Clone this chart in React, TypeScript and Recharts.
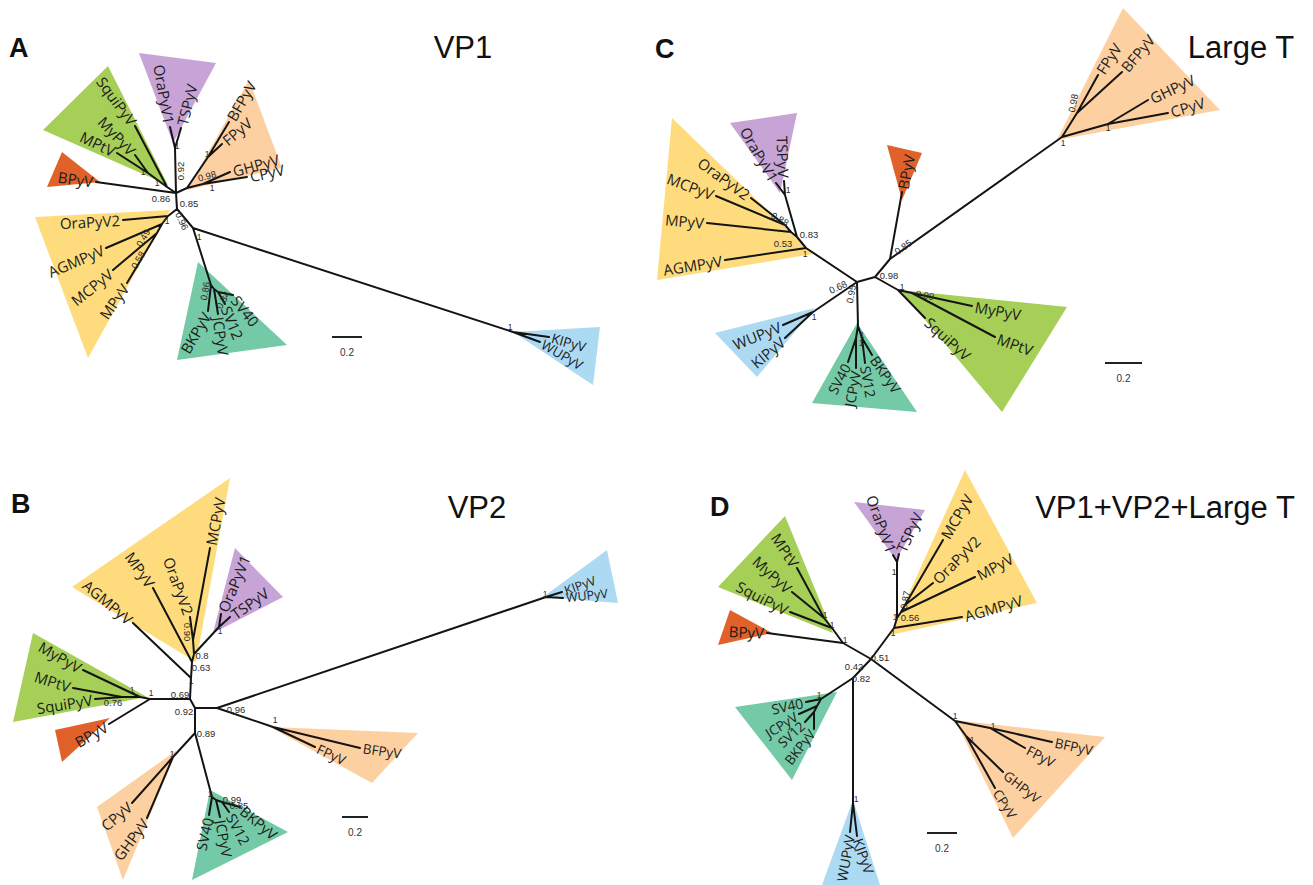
import React from 'react';
import { ScatterChart, Scatter, XAxis, YAxis } from 'recharts';

type Leaf = { name: string; x: number; y: number; dir: number };
type Node = { id: string; x: number; y: number };
type Edge = [string, string];
type Clade = { group: string; pts: [number, number][] };
type Support = { t: string; x: number; y: number; r?: number };

// ---------------- Panel A : VP1 ----------------
const leavesA: Leaf[] = [
  { name: 'SquiPyV', x: 135, y: 126, dir: -126 },
  { name: 'MyPyV', x: 135, y: 155, dir: -133 },
  { name: 'MPtV', x: 117, y: 153, dir: -154 },
  { name: 'BPyV', x: 96, y: 182, dir: -172 },
  { name: 'OraPyV1', x: 170, y: 127, dir: -100 },
  { name: 'TSPyV', x: 181, y: 128, dir: -76 },
  { name: 'BFPyV', x: 229, y: 122, dir: -60 },
  { name: 'FPyV', x: 222, y: 144, dir: -40 },
  { name: 'GHPyV', x: 230, y: 172, dir: -15 },
  { name: 'CPyV', x: 247, y: 177, dir: -12 },
  { name: 'OraPyV2', x: 123, y: 220, dir: 177 },
  { name: 'AGMPyV', x: 106, y: 248, dir: 157 },
  { name: 'MCPyV', x: 113, y: 270, dir: 141 },
  { name: 'MPyV', x: 127, y: 283, dir: 125 },
  { name: 'BKPyV', x: 208, y: 311, dir: 120 },
  { name: 'JCPyV', x: 218, y: 314, dir: 82 },
  { name: 'SV12', x: 225, y: 304, dir: 68 },
  { name: 'SV40', x: 233, y: 295, dir: 52 },
  { name: 'KIPyV', x: 549, y: 337, dir: 16 },
  { name: 'WUPyV', x: 540, y: 342, dir: 30 },
];
const nodesA: Node[] = [
  { id: 'r', x: 176, y: 193 }, { id: 'g', x: 167, y: 187 }, { id: 'g2', x: 148, y: 173 },
  { id: 'p', x: 175, y: 148 }, { id: 'o', x: 187, y: 188 }, { id: 'o2', x: 208, y: 157 },
  { id: 'o3', x: 203, y: 184 }, { id: 'r2', x: 177, y: 209 }, { id: 'y', x: 168, y: 216 },
  { id: 'y2', x: 162, y: 224 }, { id: 'y3', x: 157, y: 233 }, { id: 'r3', x: 193, y: 228 },
  { id: 'kw', x: 513, y: 332 }, { id: 't', x: 211, y: 285 }, { id: 't2', x: 214, y: 289 },
  { id: 't3', x: 218, y: 292 },
];
const edgesA: Edge[] = [
  ['r', 'g'], ['g', 'SquiPyV'], ['g', 'g2'], ['g2', 'MyPyV'], ['g2', 'MPtV'], ['r', 'BPyV'],
  ['r', 'p'], ['p', 'OraPyV1'], ['p', 'TSPyV'], ['r', 'o'], ['o', 'o2'], ['o2', 'BFPyV'],
  ['o2', 'FPyV'], ['o', 'o3'], ['o3', 'GHPyV'], ['o3', 'CPyV'], ['r', 'r2'], ['r2', 'y'],
  ['y', 'OraPyV2'], ['y', 'y2'], ['y2', 'AGMPyV'], ['y2', 'y3'], ['y3', 'MCPyV'], ['y3', 'MPyV'],
  ['r2', 'r3'], ['r3', 'kw'], ['kw', 'KIPyV'], ['kw', 'WUPyV'], ['r3', 't'], ['t', 'BKPyV'],
  ['t', 't2'], ['t2', 'JCPyV'], ['t2', 't3'], ['t3', 'SV12'], ['t3', 'SV40'],
];
const cladesA: Clade[] = [
  { group: 'purple', pts: [[139, 53], [216, 63], [173, 143]] },
  { group: 'green', pts: [[43, 130], [108, 66], [168, 185]] },
  { group: 'red', pts: [[47, 187], [62, 152], [100, 182]] },
  { group: 'orange', pts: [[187, 190], [249, 80], [282, 168]] },
  { group: 'yellow', pts: [[35, 217], [170, 210], [88, 358]] },
  { group: 'teal', pts: [[198, 262], [287, 345], [177, 360]] },
  { group: 'blue', pts: [[513, 332], [600, 327], [593, 385]] },
];
const supportA: Support[] = [
  { t: '0.92', x: 180, y: 171, r: -90 }, { t: '1', x: 177, y: 146 }, { t: '0.86', x: 161, y: 198 },
  { t: '0.85', x: 189, y: 203 }, { t: '1', x: 157, y: 183 }, { t: '1', x: 143, y: 172 },
  { t: '0.98', x: 207, y: 176, r: -15 }, { t: '1', x: 212, y: 188 }, { t: '1', x: 207, y: 154 },
  { t: '0.96', x: 182, y: 221, r: 65 }, { t: '1', x: 167, y: 221 }, { t: '0.49', x: 143, y: 238, r: -60 },
  { t: '0.58', x: 138, y: 260, r: -60 }, { t: '1', x: 199, y: 237 }, { t: '1', x: 510, y: 327 },
  { t: '0.86', x: 205, y: 291, r: -80 }, { t: '0.84', x: 223, y: 300, r: -60 },
];

// ---------------- Panel B : VP2 ----------------
const leavesB: Leaf[] = [
  { name: 'AGMPyV', x: 133, y: 623, dir: -140 },
  { name: 'MPyV', x: 153, y: 588, dir: -125 },
  { name: 'OraPyV2', x: 190, y: 617, dir: -110 },
  { name: 'MCPyV', x: 210, y: 548, dir: -79 },
  { name: 'OraPyV1', x: 221, y: 614, dir: -67 },
  { name: 'TSPyV', x: 230, y: 617, dir: -35 },
  { name: 'MyPyV', x: 83, y: 670, dir: -150 },
  { name: 'MPtV', x: 73, y: 688, dir: -162 },
  { name: 'SquiPyV', x: 95, y: 699, dir: 171 },
  { name: 'BPyV', x: 109, y: 724, dir: 150 },
  { name: 'CPyV', x: 132, y: 803, dir: 140 },
  { name: 'GHPyV', x: 147, y: 818, dir: 127 },
  { name: 'SV40', x: 209, y: 815, dir: 103 },
  { name: 'JCPyV', x: 220, y: 817, dir: 80 },
  { name: 'SV12', x: 229, y: 812, dir: 62 },
  { name: 'BKPyV', x: 240, y: 807, dir: 40 },
  { name: 'FPyV', x: 315, y: 747, dir: 25 },
  { name: 'BFPyV', x: 360, y: 748, dir: 8 },
  { name: 'KIPyV', x: 562, y: 592, dir: -20 },
  { name: 'WUPyV', x: 563, y: 598, dir: -6 },
];
const nodesB: Node[] = [
  { id: 'n1', x: 190, y: 699 }, { id: 'n2', x: 195, y: 708 }, { id: 'rr', x: 217, y: 708 },
  { id: 'kw', x: 546, y: 597 }, { id: 'or', x: 273, y: 727 }, { id: 'n3', x: 195, y: 733 },
  { id: 'ol', x: 173, y: 757 }, { id: 't', x: 212, y: 797 }, { id: 't2', x: 216, y: 800 },
  { id: 't3', x: 222, y: 802 }, { id: 'g0', x: 150, y: 699 }, { id: 'g', x: 140, y: 697 },
  { id: 'g2', x: 122, y: 697 }, { id: 'y1', x: 191, y: 678 }, { id: 'y2', x: 192, y: 662 },
  { id: 'y3', x: 194, y: 654 }, { id: 'y4', x: 193, y: 640 }, { id: 'p', x: 219, y: 627 },
];
const edgesB: Edge[] = [
  ['n1', 'g0'], ['g0', 'BPyV'], ['g0', 'g'], ['g', 'MyPyV'], ['g', 'g2'], ['g2', 'MPtV'],
  ['g2', 'SquiPyV'], ['n1', 'y1'], ['y1', 'AGMPyV'], ['y1', 'y2'], ['y2', 'MPyV'], ['y2', 'y3'],
  ['y3', 'p'], ['p', 'OraPyV1'], ['p', 'TSPyV'], ['y3', 'y4'], ['y4', 'OraPyV2'], ['y4', 'MCPyV'],
  ['n1', 'n2'], ['n2', 'rr'], ['rr', 'kw'], ['kw', 'KIPyV'], ['kw', 'WUPyV'], ['rr', 'or'],
  ['or', 'BFPyV'], ['or', 'FPyV'], ['n2', 'n3'], ['n3', 'ol'], ['ol', 'CPyV'], ['ol', 'GHPyV'],
  ['n3', 't'], ['t', 'SV40'], ['t', 't2'], ['t2', 'JCPyV'], ['t2', 't3'], ['t3', 'SV12'], ['t3', 'BKPyV'],
];
const cladesB: Clade[] = [
  { group: 'yellow', pts: [[72, 587], [230, 478], [196, 662]] },
  { group: 'purple', pts: [[235, 548], [283, 597], [213, 633]] },
  { group: 'green', pts: [[33, 633], [13, 722], [147, 697]] },
  { group: 'red', pts: [[55, 730], [62, 762], [110, 718]] },
  { group: 'orange', pts: [[97, 807], [177, 750], [123, 880]] },
  { group: 'teal', pts: [[210, 790], [288, 832], [192, 880]] },
  { group: 'orange', pts: [[270, 727], [418, 733], [372, 783]] },
  { group: 'blue', pts: [[543, 597], [607, 550], [618, 603]] },
];
const supportB: Support[] = [
  { t: '0.69', x: 180, y: 694 }, { t: '0.92', x: 184, y: 711 }, { t: '0.96', x: 236, y: 709 },
  { t: '0.89', x: 206, y: 733 }, { t: '1', x: 151, y: 693 }, { t: '1', x: 132, y: 690 },
  { t: '0.76', x: 113, y: 702 }, { t: '1', x: 191, y: 681 }, { t: '0.63', x: 201, y: 667 },
  { t: '0.8', x: 202, y: 655 }, { t: '0.90', x: 187, y: 632, r: 90 }, { t: '1', x: 220, y: 631 },
  { t: '1', x: 172, y: 754 }, { t: '1', x: 275, y: 720 }, { t: '1', x: 210, y: 794 },
  { t: '0.99', x: 232, y: 799 }, { t: '0.85', x: 239, y: 805 }, { t: '1', x: 545, y: 594 },
];

// ---------------- Panel C : Large T ----------------
const leavesC: Leaf[] = [
  { name: 'TSPyV', x: 784, y: 181, dir: -92 },
  { name: 'OraPyV1', x: 776, y: 183, dir: -120 },
  { name: 'OraPyV2', x: 751, y: 198, dir: -144 },
  { name: 'MCPyV', x: 716, y: 196, dir: -159 },
  { name: 'MPyV', x: 707, y: 223, dir: -175 },
  { name: 'AGMPyV', x: 725, y: 260, dir: 171 },
  { name: 'WUPyV', x: 783, y: 325, dir: 158 },
  { name: 'KIPyV', x: 785, y: 338, dir: 140 },
  { name: 'SV40', x: 848, y: 362, dir: 118 },
  { name: 'JCPyV', x: 856, y: 368, dir: 100 },
  { name: 'SV12', x: 865, y: 363, dir: 80 },
  { name: 'BKPyV', x: 872, y: 355, dir: 55 },
  { name: 'BPyV', x: 902, y: 192, dir: -79 },
  { name: 'MyPyV', x: 972, y: 306, dir: 10 },
  { name: 'MPtV', x: 995, y: 337, dir: 20 },
  { name: 'SquiPyV', x: 925, y: 318, dir: 42 },
  { name: 'FPyV', x: 1098, y: 75, dir: -57 },
  { name: 'BFPyV', x: 1122, y: 72, dir: -50 },
  { name: 'GHPyV', x: 1148, y: 100, dir: -25 },
  { name: 'CPyV', x: 1168, y: 113, dir: -17 },
];
const nodesC: Node[] = [
  { id: 'l', x: 857, y: 282 }, { id: 'r', x: 875, y: 277 }, { id: 'bl', x: 890, y: 259 },
  { id: 'y1', x: 806, y: 248 }, { id: 'y2', x: 797, y: 237 }, { id: 'y3', x: 791, y: 232 },
  { id: 'y4', x: 785, y: 225 }, { id: 'p', x: 785, y: 195 }, { id: 'b', x: 813, y: 312 },
  { id: 't', x: 858, y: 326 }, { id: 't2', x: 856, y: 338 }, { id: 't3', x: 862, y: 338 },
  { id: 'g', x: 898, y: 290 }, { id: 'g2', x: 912, y: 293 }, { id: 'o', x: 1062, y: 137 },
  { id: 'o2', x: 1077, y: 113 }, { id: 'o3', x: 1108, y: 124 },
];
const edgesC: Edge[] = [
  ['l', 'y1'], ['y1', 'AGMPyV'], ['y1', 'y2'], ['y2', 'p'], ['p', 'OraPyV1'], ['p', 'TSPyV'],
  ['y2', 'y3'], ['y3', 'MPyV'], ['y3', 'y4'], ['y4', 'MCPyV'], ['y4', 'OraPyV2'], ['l', 'b'],
  ['b', 'WUPyV'], ['b', 'KIPyV'], ['l', 't'], ['t', 't2'], ['t2', 'SV40'], ['t2', 'JCPyV'],
  ['t', 't3'], ['t3', 'SV12'], ['t3', 'BKPyV'], ['l', 'r'], ['r', 'bl'], ['bl', 'BPyV'],
  ['bl', 'o'], ['o', 'o2'], ['o2', 'FPyV'], ['o2', 'BFPyV'], ['o', 'o3'], ['o3', 'GHPyV'],
  ['o3', 'CPyV'], ['r', 'g'], ['g', 'SquiPyV'], ['g', 'g2'], ['g2', 'MyPyV'], ['g2', 'MPtV'],
];
const cladesC: Clade[] = [
  { group: 'purple', pts: [[730, 123], [797, 113], [780, 193]] },
  { group: 'yellow', pts: [[672, 118], [657, 280], [813, 254]] },
  { group: 'blue', pts: [[715, 333], [815, 308], [757, 377]] },
  { group: 'teal', pts: [[857, 323], [917, 412], [812, 403]] },
  { group: 'red', pts: [[887, 145], [922, 153], [902, 200]] },
  { group: 'green', pts: [[900, 290], [1067, 307], [1002, 412]] },
  { group: 'orange', pts: [[1057, 140], [1123, 8], [1220, 110]] },
];
const supportC: Support[] = [
  { t: '0.83', x: 809, y: 234 }, { t: '0.53', x: 783, y: 243 }, { t: '0.88', x: 780, y: 219, r: 30 },
  { t: '1', x: 805, y: 254 }, { t: '1', x: 788, y: 190 }, { t: '1', x: 814, y: 317 },
  { t: '0.68', x: 838, y: 287, r: -25 }, { t: '0.95', x: 851, y: 294, r: -80 }, { t: '0.98', x: 889, y: 275 },
  { t: '0.85', x: 903, y: 247, r: -35 }, { t: '1', x: 902, y: 287 }, { t: '0.99', x: 925, y: 295, r: 10 },
  { t: '0.98', x: 1073, y: 103, r: -80 }, { t: '1', x: 1063, y: 143 }, { t: '1', x: 1108, y: 128 },
  { t: '1', x: 862, y: 335 }, { t: '1', x: 861, y: 343 },
];

// ---------------- Panel D : VP1+VP2+Large T ----------------
const leavesD: Leaf[] = [
  { name: 'MPtV', x: 797, y: 568, dir: -123 },
  { name: 'MyPyV', x: 792, y: 592, dir: -138 },
  { name: 'SquiPyV', x: 790, y: 612, dir: -153 },
  { name: 'BPyV', x: 767, y: 633, dir: -177 },
  { name: 'OraPyV1', x: 893, y: 555, dir: -110 },
  { name: 'TSPyV', x: 899, y: 554, dir: -65 },
  { name: 'MCPyV', x: 943, y: 540, dir: -60 },
  { name: 'OraPyV2', x: 933, y: 583, dir: -45 },
  { name: 'MPyV', x: 975, y: 577, dir: -28 },
  { name: 'AGMPyV', x: 962, y: 617, dir: -16 },
  { name: 'SV40', x: 806, y: 702, dir: 168 },
  { name: 'JCPyV', x: 799, y: 714, dir: 148 },
  { name: 'SV12', x: 805, y: 722, dir: 138 },
  { name: 'BKPyV', x: 814, y: 729, dir: 128 },
  { name: 'WUPyV', x: 850, y: 832, dir: 100 },
  { name: 'KIPyV', x: 857, y: 836, dir: 71 },
  { name: 'BFPyV', x: 1052, y: 742, dir: 12 },
  { name: 'FPyV', x: 1025, y: 748, dir: 28 },
  { name: 'GHPyV', x: 1003, y: 772, dir: 38 },
  { name: 'CPyV', x: 995, y: 788, dir: 58 },
];
const nodesD: Node[] = [
  { id: 'c', x: 871, y: 659 }, { id: 'g0', x: 843, y: 643 }, { id: 'g', x: 832, y: 628 },
  { id: 'g2', x: 824, y: 618 }, { id: 'y0', x: 894, y: 628 }, { id: 'y1', x: 897, y: 618 },
  { id: 'p', x: 897, y: 562 }, { id: 'y2', x: 901, y: 612 }, { id: 'y3', x: 905, y: 605 },
  { id: 'b', x: 853, y: 678 }, { id: 'bl', x: 853, y: 803 }, { id: 't', x: 821, y: 699 },
  { id: 't2', x: 817, y: 706 }, { id: 't3', x: 814, y: 712 }, { id: 'o', x: 955, y: 721 },
  { id: 'o2', x: 990, y: 728 }, { id: 'o3', x: 966, y: 736 },
];
const edgesD: Edge[] = [
  ['c', 'g0'], ['g0', 'BPyV'], ['g0', 'g'], ['g', 'SquiPyV'], ['g', 'g2'], ['g2', 'MyPyV'],
  ['g2', 'MPtV'], ['c', 'y0'], ['y0', 'AGMPyV'], ['y0', 'y1'], ['y1', 'p'], ['p', 'OraPyV1'],
  ['p', 'TSPyV'], ['y1', 'y2'], ['y2', 'MPyV'], ['y2', 'y3'], ['y3', 'OraPyV2'], ['y3', 'MCPyV'],
  ['c', 'b'], ['b', 'bl'], ['bl', 'WUPyV'], ['bl', 'KIPyV'], ['b', 't'], ['t', 'SV40'],
  ['t', 't2'], ['t2', 'JCPyV'], ['t2', 't3'], ['t3', 'SV12'], ['t3', 'BKPyV'], ['c', 'o'],
  ['o', 'o2'], ['o2', 'BFPyV'], ['o2', 'FPyV'], ['o', 'o3'], ['o3', 'GHPyV'], ['o3', 'CPyV'],
];
const cladesD: Clade[] = [
  { group: 'green', pts: [[718, 587], [785, 516], [833, 633]] },
  { group: 'red', pts: [[718, 645], [730, 610], [772, 633]] },
  { group: 'purple', pts: [[854, 502], [925, 510], [896, 560]] },
  { group: 'yellow', pts: [[965, 470], [1037, 603], [890, 635]] },
  { group: 'teal', pts: [[735, 707], [837, 692], [792, 780]] },
  { group: 'blue', pts: [[853, 800], [880, 885], [822, 885]] },
  { group: 'orange', pts: [[955, 720], [1105, 737], [1013, 838]] },
];
const supportD: Support[] = [
  { t: '1', x: 845, y: 640 }, { t: '1', x: 832, y: 625 }, { t: '1', x: 825, y: 615 },
  { t: '1', x: 893, y: 633 }, { t: '1', x: 895, y: 617 }, { t: '0.56', x: 910, y: 617 },
  { t: '0.87', x: 905, y: 600, r: -80 }, { t: '1', x: 894, y: 572 }, { t: '0.51', x: 880, y: 657 },
  { t: '0.42', x: 854, y: 666 }, { t: '0.82', x: 861, y: 678 }, { t: '1', x: 819, y: 695 },
  { t: '1', x: 856, y: 799 }, { t: '1', x: 955, y: 716 }, { t: '1', x: 993, y: 726 },
  { t: '1', x: 972, y: 740 },
];

// ---------------- Titles, letters, scale bars ----------------
const panelLetters = [
  { t: 'A', x: 9, y: 57 }, { t: 'B', x: 11, y: 513 }, { t: 'C', x: 655, y: 58 }, { t: 'D', x: 710, y: 516 },
];
const panelTitles = [
  { t: 'VP1', x: 463, y: 58 }, { t: 'VP2', x: 477, y: 518 },
  { t: 'Large T', x: 1241, y: 58 }, { t: 'VP1+VP2+Large T', x: 1165, y: 518 },
];
const scaleBars = [
  { x1: 332, x2: 362, y: 337, label: '0.2' }, { x1: 342, x2: 368, y: 817, label: '0.2' },
  { x1: 1105, x2: 1142, y: 363, label: '0.2' }, { x1: 927, x2: 957, y: 833, label: '0.2' },
];

// ---------------- styling ----------------
const COLORS: Record<string, string> = {
  purple: '#c7a3d6', green: '#a6cf57', red: '#e1612b', orange: '#fdd0a2',
  yellow: '#fedc7d', teal: '#74c9a6', blue: '#addaf3',
};
const LABEL_FONT = '"Open Sans", "Noto Sans", sans-serif';
const ARIAL = '"Liberation Sans", Arial, sans-serif';
const SMALL: Record<string, number> = {
  'A-KIPyV': 13.5, 'A-WUPyV': 13.5, 'B-KIPyV': 12.5, 'B-WUPyV': 12.5, 'B-BFPyV': 13.5, 'B-FPyV': 13.5,
  'B-SV40': 14.5, 'B-JCPyV': 14.5, 'B-SV12': 14.5, 'B-BKPyV': 14.5,
  'C-SV40': 14, 'C-JCPyV': 14, 'C-SV12': 14, 'C-BKPyV': 14,
  'D-SV40': 14, 'D-JCPyV': 13.5, 'D-SV12': 13.5, 'D-BKPyV': 13.5,
  'D-BFPyV': 13.5, 'D-FPyV': 13.5, 'D-GHPyV': 13.5, 'D-CPyV': 13.5, 'D-WUPyV': 14, 'D-KIPyV': 14,
};

const panels = [
  { key: 'A', leaves: leavesA, nodes: nodesA, edges: edgesA, clades: cladesA, support: supportA },
  { key: 'B', leaves: leavesB, nodes: nodesB, edges: edgesB, clades: cladesB, support: supportB },
  { key: 'C', leaves: leavesC, nodes: nodesC, edges: edgesC, clades: cladesC, support: supportC },
  { key: 'D', leaves: leavesD, nodes: nodesD, edges: edgesD, clades: cladesD, support: supportD },
];

const segPath = (pts: { x: number; y: number }[]) => {
  let d = '';
  for (let i = 0; i + 1 < pts.length; i += 2) d += `M${pts[i].x},${pts[i].y}L${pts[i + 1].x},${pts[i + 1].y}`;
  return d;
};
const polyPath = (pts: { x: number; y: number }[]) =>
  pts.map((p, i) => `${i ? 'L' : 'M'}${p.x},${p.y}`).join('') + 'Z';

const Empty = () => <g />;

const leafShape = (panelKey: string) => (p: any) => {
  const { cx, cy, payload } = p;
  const rad = (payload.dir * Math.PI) / 180;
  const flip = Math.cos(rad) < 0;
  const rot = flip ? payload.dir + 180 : payload.dir;
  const x = cx + 3 * Math.cos(rad);
  const y = cy + 3 * Math.sin(rad);
  const size = SMALL[`${panelKey}-${payload.name}`] ?? 15;
  return (
    <text x={x} y={y} transform={`rotate(${rot} ${x} ${y})`} textAnchor={flip ? 'end' : 'start'}
      dominantBaseline="central" fontFamily={LABEL_FONT} fontSize={size} fill="#1c1c1c">
      {payload.name}
    </text>
  );
};

const supportShape = (p: any) => {
  const { cx, cy, payload } = p;
  const r = payload.r ?? 0;
  return (
    <text x={cx} y={cy} transform={`rotate(${r} ${cx} ${cy})`} textAnchor="middle" dominantBaseline="central"
      fontFamily={ARIAL} fontSize={payload.t === '1' ? 8.5 : 9.5} fill="#2a2a2a">
      {payload.t}
    </text>
  );
};

const letterShape = (p: any) => (
  <text x={p.cx} y={p.cy} fontFamily={ARIAL} fontWeight="bold" fontSize={27} fill="#111">{p.payload.t}</text>
);
const titleShape = (p: any) => (
  <text x={p.cx} y={p.cy} textAnchor="middle" fontFamily={ARIAL} fontSize={31} fill="#111">{p.payload.t}</text>
);
const scaleTextShape = (p: any) => (
  <text x={p.cx} y={p.cy} textAnchor="middle" dominantBaseline="central" fontFamily={ARIAL} fontSize={10}
    fill="#333">{p.payload.label}</text>
);

export default function App() {
  const series: React.ReactNode[] = [];
  panels.forEach((pn) => {
    pn.clades.forEach((c, i) => {
      series.push(
        <Scatter key={`${pn.key}-clade-${i}`} data={c.pts.map(([x, y]) => ({ x, y }))} isAnimationActive={false}
          shape={Empty}
          line={(lp: any) => <path d={polyPath(lp.points)} fill={COLORS[c.group]} stroke="none" />} />,
      );
    });
  });
  panels.forEach((pn) => {
    const pos: Record<string, { x: number; y: number }> = {};
    pn.nodes.forEach((n) => (pos[n.id] = { x: n.x, y: n.y }));
    pn.leaves.forEach((l) => (pos[l.name] = { x: l.x, y: l.y }));
    const segData = pn.edges.flatMap(([a, b]) => [pos[a], pos[b]]);
    series.push(
      <Scatter key={`${pn.key}-edges`} data={segData} isAnimationActive={false} shape={Empty}
        line={(lp: any) => (
          <path d={segPath(lp.points)} fill="none" stroke="#141414" strokeWidth={2} strokeLinecap="round" />
        )} />,
    );
  });
  const scaleSeg = scaleBars.flatMap((s) => [{ x: s.x1, y: s.y }, { x: s.x2, y: s.y }]);
  series.push(
    <Scatter key="scale-bars" data={scaleSeg} isAnimationActive={false} shape={Empty}
      line={(lp: any) => <path d={segPath(lp.points)} fill="none" stroke="#222" strokeWidth={2} />} />,
  );
  series.push(
    <Scatter key="scale-text" data={scaleBars.map((s) => ({ x: (s.x1 + s.x2) / 2, y: s.y + 15, label: s.label }))}
      isAnimationActive={false} shape={scaleTextShape} />,
  );
  panels.forEach((pn) => {
    series.push(
      <Scatter key={`${pn.key}-support`} data={pn.support} isAnimationActive={false} shape={supportShape} />,
    );
    series.push(
      <Scatter key={`${pn.key}-leaves`} data={pn.leaves} isAnimationActive={false} shape={leafShape(pn.key)} />,
    );
  });
  series.push(<Scatter key="letters" data={panelLetters} isAnimationActive={false} shape={letterShape} />);
  series.push(<Scatter key="titles" data={panelTitles} isAnimationActive={false} shape={titleShape} />);

  return (
    <div style={{ position: 'absolute', left: 0, top: 0, width: 1313, height: 885, background: '#fff' }}>
      <ScatterChart width={1313} height={885} margin={{ top: 0, right: 0, bottom: 0, left: 0 }}>
        <XAxis type="number" dataKey="x" domain={[0, 1313]} allowDataOverflow hide />
        <YAxis type="number" dataKey="y" domain={[0, 885]} allowDataOverflow reversed hide />
        {series}
      </ScatterChart>
    </div>
  );
}
